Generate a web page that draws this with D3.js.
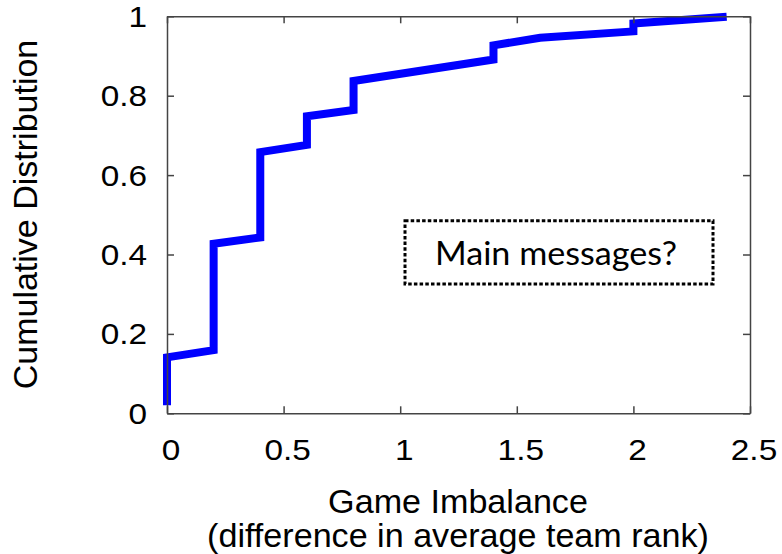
<!DOCTYPE html>
<html>
<head>
<meta charset="utf-8">
<script src="https://cdn.jsdelivr.net/npm/d3@7"></script>
<style>
  html, body { margin: 0; padding: 0; background: #fff; }
  svg { display: block; }
</style>
</head>
<body>
<svg id="chart" width="782" height="554"></svg>
<script>
// ---- data ----
const cdfX = [0, 0, 0.2, 0.2, 0.4, 0.4, 0.6, 0.6, 0.8, 0.8, 1.4, 1.4, 1.6, 2.0, 2.0, 2.4];
const cdfY = [0.02, 0.141, 0.159, 0.427, 0.443, 0.658, 0.676, 0.748, 0.764, 0.837, 0.891, 0.927, 0.946, 0.962, 0.982, 0.999];
const xTicks = [0, 0.5, 1, 1.5, 2, 2.5];
const xTickLabels = ["0", "0.5", "1", "1.5", "2", "2.5"];
const yTicks = [0, 0.2, 0.4, 0.6, 0.8, 1];
const yTickLabels = ["0", "0.2", "0.4", "0.6", "0.8", "1"];
const xTitle = ["Game Imbalance", "(difference in average team rank)"];
const yTitle = "Cumulative Distribution";
const note = "Main messages?";

// ---- layout ----
const mLeft = 167, mRight = 750, mTop = 16.3, mBottom = 413.3;
const svg = d3.select("#chart");
const x = d3.scaleLinear().domain([0, 2.5]).range([mLeft, mRight]);
const y = d3.scaleLinear().domain([0, 1]).range([mBottom, mTop]);
const font = "'Liberation Sans', Arial, Helvetica, sans-serif";

// ---- CDF line ----
const pts = cdfX.map((v, i) => [v, cdfY[i]]);
svg.append("path")
  .datum(pts)
  .attr("d", d3.line().x(d => x(d[0])).y(d => y(d[1])))
  .attr("fill", "none")
  .attr("stroke", "#0000ff")
  .attr("stroke-width", 8)
  .attr("stroke-linejoin", "miter")
  .attr("stroke-linecap", "butt");

// ---- frame & ticks (inward) ----
const axisColor = "#444";
function styleAxis(g) {
  g.selectAll("path.domain").attr("stroke", axisColor).attr("stroke-width", 1.5);
  g.selectAll(".tick line").attr("stroke", axisColor).attr("stroke-width", 1.5);
  g.selectAll(".tick text").remove();
}
svg.append("g").attr("transform", `translate(0,${mBottom})`)
  .call(d3.axisBottom(x).tickValues(xTicks).tickSize(-7).tickSizeOuter(0)).call(styleAxis);
svg.append("g").attr("transform", `translate(0,${mTop})`)
  .call(d3.axisTop(x).tickValues(xTicks).tickSize(-7).tickSizeOuter(0)).call(styleAxis);
svg.append("g").attr("transform", `translate(${mLeft},0)`)
  .call(d3.axisLeft(y).tickValues(yTicks).tickSize(-7).tickSizeOuter(0)).call(styleAxis);
svg.append("g").attr("transform", `translate(${mRight},0)`)
  .call(d3.axisRight(y).tickValues(yTicks).tickSize(-7).tickSizeOuter(0)).call(styleAxis);

// ---- tick labels ----
const stretch = 1.15;
svg.append("g").selectAll("text").data(xTicks).join("text")
  .attr("transform", d => `translate(${x(d) + 4},460) scale(${stretch},1)`)
  .attr("text-anchor", "middle")
  .attr("font-family", font).attr("font-size", 29).attr("fill", "#000")
  .text((d, i) => xTickLabels[i]);

svg.append("g").selectAll("text").data(yTicks).join("text")
  .attr("transform", d => `translate(147,${y(d) + 10.5}) scale(${stretch},1)`)
  .attr("text-anchor", "end")
  .attr("font-family", font).attr("font-size", 29).attr("fill", "#000")
  .text((d, i) => yTickLabels[i]);

// ---- axis titles ----
const xt = svg.append("g");
xTitle.forEach((t, i) => {
  xt.append("text")
    .attr("transform", `translate(458,${512.5 + i * 34}) scale(1.05,1)`)
    .attr("text-anchor", "middle")
    .attr("font-family", font).attr("font-size", 32.5).attr("fill", "#000")
    .text(t);
});
svg.append("text")
  .attr("transform", `translate(37,214.5) rotate(-90)`)
  .attr("text-anchor", "middle")
  .attr("font-family", font).attr("font-size", 34).attr("fill", "#000")
  .text(yTitle);

// ---- annotation box ----
svg.append("rect")
  .attr("x", 405).attr("y", 220.7).attr("width", 308).attr("height", 63.3)
  .attr("fill", "#fff").attr("stroke", "#000").attr("stroke-width", 3)
  .attr("stroke-dasharray", "3.5,2.2");
svg.append("text")
  .attr("x", 556).attr("y", 265)
  .attr("text-anchor", "middle")
  .attr("font-family", "Lato, 'Open Sans', sans-serif").attr("font-size", 33)
  .attr("textLength", 242).attr("lengthAdjust", "spacingAndGlyphs")
  .attr("fill", "#000")
  .text(note);
</script>
</body>
</html>
